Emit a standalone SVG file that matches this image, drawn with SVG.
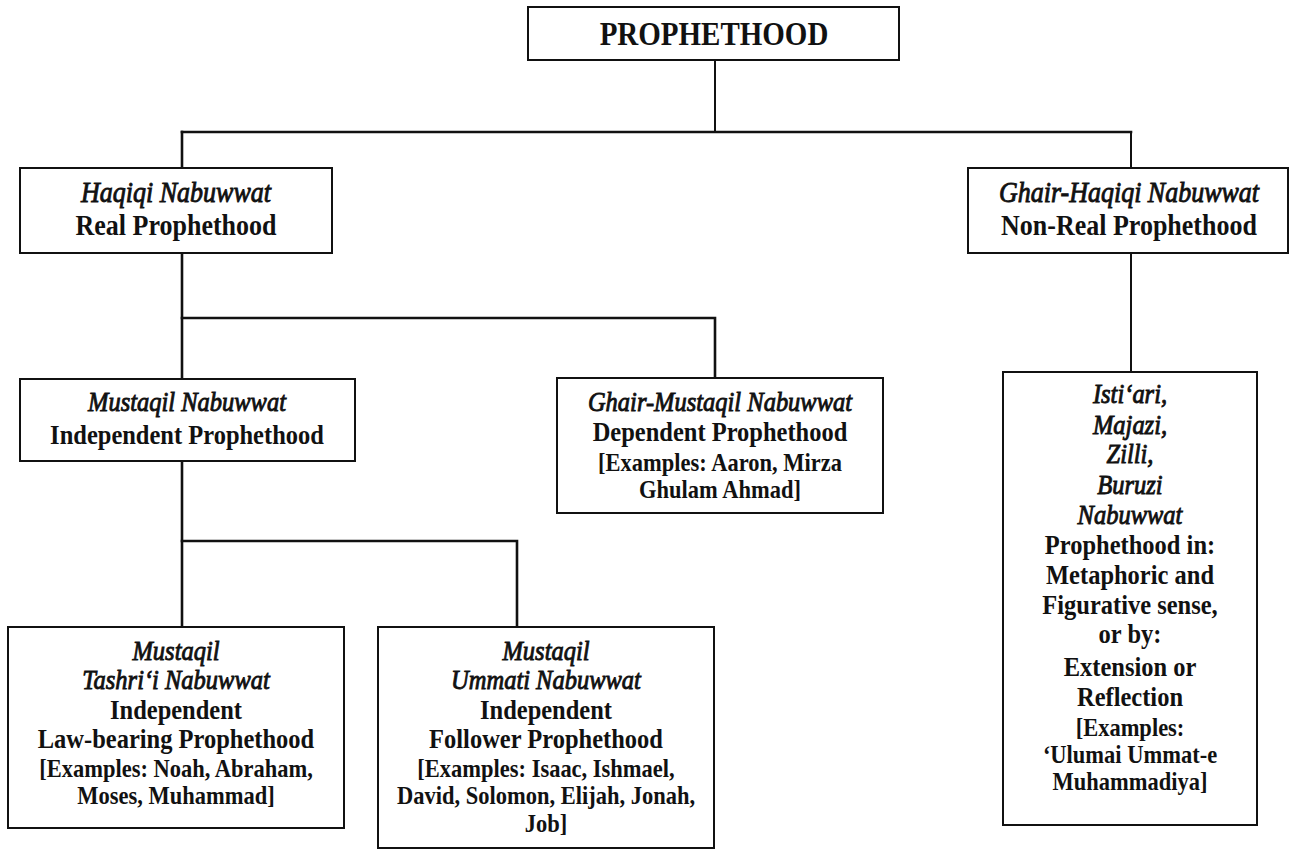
<svg xmlns="http://www.w3.org/2000/svg" width="1290" height="859" viewBox="0 0 1290 859">
  <style>
    .box { fill: #ffffff; stroke: #111111; stroke-width: 2; }
    .link { fill: none; stroke: #111111; stroke-width: 2.6; stroke-linejoin: miter; stroke-linecap: square; }
    .thin { stroke-width: 2; }
    text { font-family: "Liberation Serif", "Times New Roman", serif; font-weight: bold; fill: #111111; text-anchor: middle; }
    .it { font-style: italic; font-weight: normal; stroke: #111111; stroke-width: 0.8; }
    .title { font-size: 29px; }
    .l1 { font-size: 26px; }
    .l2 { font-size: 24.5px; }
    .ex { font-size: 22.5px; }
  </style>
  <rect width="1290" height="859" fill="#ffffff"/>

  <!-- tree connectors -->
  <g id="connectors">
    <path class="link thin" d="M715 60 V132"/>
    <path class="link" d="M182 132 H1131"/>
    <path class="link" d="M182 132 V168"/>
    <path class="link thin" d="M1131 132 V168"/>
    <path class="link" d="M182 253 V379"/>
    <path class="link" d="M182 318 H715 V378"/>
    <path class="link thin" d="M1131 253 V372"/>
    <path class="link" d="M182 461 V627"/>
    <path class="link" d="M182 541 H517 V627"/>
  </g>

  <!-- labels are set in a slightly tall serif: each line is translated to its baseline and stretched vertically -->
  <g id="node-prophethood">
    <rect class="box" x="528" y="7" width="371" height="53"/>
    <text class="title" transform="translate(714 45) scale(1 1.14)">PROPHETHOOD</text>
  </g>

  <g id="node-haqiqi">
    <rect class="box" x="20" y="168" width="312" height="85"/>
    <text class="l1 it" transform="translate(176 202) scale(1 1.12)">Haqiqi Nabuwwat</text>
    <text class="l1" transform="translate(176 235) scale(1 1.12)">Real Prophethood</text>
  </g>

  <g id="node-ghair-haqiqi">
    <rect class="box" x="968" y="168" width="320" height="85"/>
    <text class="l1 it" transform="translate(1129 202) scale(1 1.12)">Ghair-Haqiqi Nabuwwat</text>
    <text class="l1" transform="translate(1129 235) scale(1 1.12)">Non-Real Prophethood</text>
  </g>

  <g id="node-mustaqil">
    <rect class="box" x="20" y="379" width="335" height="82"/>
    <text class="l2 it" transform="translate(187 411) scale(1 1.12)">Mustaqil Nabuwwat</text>
    <text class="l2" transform="translate(187 444) scale(1 1.12)">Independent Prophethood</text>
  </g>

  <g id="node-ghair-mustaqil">
    <rect class="box" x="557" y="378" width="326" height="135"/>
    <text class="l2 it" transform="translate(720 411) scale(1 1.12)">Ghair-Mustaqil Nabuwwat</text>
    <text class="l2" transform="translate(720 441) scale(1 1.12)">Dependent Prophethood</text>
    <text class="ex" transform="translate(720 471) scale(1 1.12)">[Examples: Aaron, Mirza</text>
    <text class="ex" transform="translate(720 498) scale(1 1.12)">Ghulam Ahmad]</text>
  </g>

  <g id="node-tashrii">
    <rect class="box" x="8" y="627" width="336" height="201"/>
    <text class="l2 it" transform="translate(176 660) scale(1 1.12)">Mustaqil</text>
    <text class="l2 it" transform="translate(176 689) scale(1 1.12)">Tashri‘i Nabuwwat</text>
    <text class="l2" transform="translate(176 719) scale(1 1.12)">Independent</text>
    <text class="l2" transform="translate(176 748) scale(1 1.12)">Law-bearing Prophethood</text>
    <text class="ex" transform="translate(176 777) scale(1 1.12)">[Examples: Noah, Abraham,</text>
    <text class="ex" transform="translate(176 804) scale(1 1.12)">Moses, Muhammad]</text>
  </g>

  <g id="node-ummati">
    <rect class="box" x="378" y="627" width="336" height="221"/>
    <text class="l2 it" transform="translate(546 660) scale(1 1.12)">Mustaqil</text>
    <text class="l2 it" transform="translate(546 689) scale(1 1.12)">Ummati Nabuwwat</text>
    <text class="l2" transform="translate(546 719) scale(1 1.12)">Independent</text>
    <text class="l2" transform="translate(546 748) scale(1 1.12)">Follower Prophethood</text>
    <text class="ex" transform="translate(546 777) scale(1 1.12)">[Examples: Isaac, Ishmael,</text>
    <text class="ex" transform="translate(546 804) scale(1 1.12)">David, Solomon, Elijah, Jonah,</text>
    <text class="ex" transform="translate(546 832) scale(1 1.12)">Job]</text>
  </g>

  <g id="node-zilli">
    <rect class="box" x="1003" y="372" width="254" height="453"/>
    <text class="l2 it" transform="translate(1130 403) scale(1 1.12)">Isti‘ari,</text>
    <text class="l2 it" transform="translate(1130 434) scale(1 1.12)">Majazi,</text>
    <text class="l2 it" transform="translate(1130 463) scale(1 1.12)">Zilli,</text>
    <text class="l2 it" transform="translate(1130 494) scale(1 1.12)">Buruzi</text>
    <text class="l2 it" transform="translate(1130 524) scale(1 1.12)">Nabuwwat</text>
    <text class="l2" transform="translate(1130 554) scale(1 1.12)">Prophethood in:</text>
    <text class="l2" transform="translate(1130 584) scale(1 1.12)">Metaphoric and</text>
    <text class="l2" transform="translate(1130 614) scale(1 1.12)">Figurative sense,</text>
    <text class="l2" transform="translate(1130 643) scale(1 1.12)">or by:</text>
    <text class="l2" transform="translate(1130 676) scale(1 1.12)">Extension or</text>
    <text class="l2" transform="translate(1130 706) scale(1 1.12)">Reflection</text>
    <text class="ex" transform="translate(1130 736) scale(1 1.12)">[Examples:</text>
    <text class="ex" transform="translate(1130 763) scale(1 1.12)">‘Ulumai Ummat-e</text>
    <text class="ex" transform="translate(1130 790) scale(1 1.12)">Muhammadiya]</text>
  </g>
</svg>
